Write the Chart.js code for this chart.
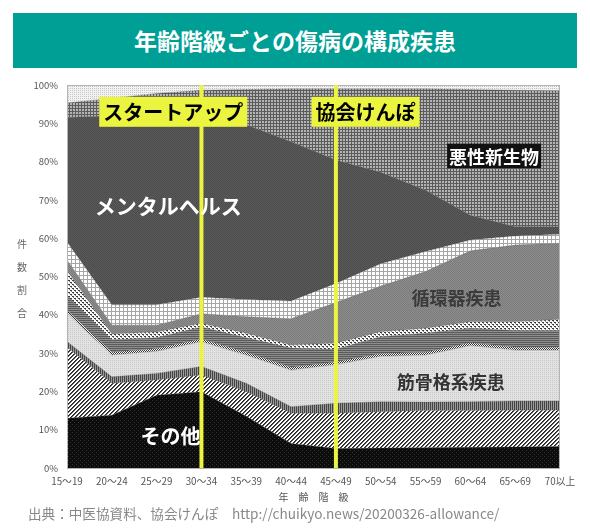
<!DOCTYPE html>
<html>
<head>
<meta charset="utf-8">
<script src="https://cdn.jsdelivr.net/npm/chart.js@4.4.1/dist/chart.umd.min.js"></script>
<style>
  html, body { margin: 0; padding: 0; background: #fff; }
  #wrap { position: relative; width: 590px; height: 529px; overflow: hidden;
          font-family: "Noto Sans CJK JP", "Noto Sans", sans-serif; }
  #banner { position: absolute; left: 13px; top: 13px; width: 564px; height: 55px;
            background: #009f95; color: #fff; font-weight: bold; font-size: 23px;
            line-height: 55px; text-align: center; }
  #ytitle { position: absolute; left: 15px; top: 232px; width: 14px; font-size: 10px;
            line-height: 23px; color: #666; text-align: center; }
  #source { position: absolute; left: 28px; top: 503px; font-size: 13.6px; line-height: 20px;
            color: #888; white-space: nowrap; }
  #chart { position: absolute; left: 0; top: 0; }
</style>
</head>
<body>
<div id="wrap">
  <canvas id="chart" width="590" height="529"></canvas>
  <div id="banner">年齢階級ごとの傷病の構成疾患</div>
  <div id="ytitle">件<br>数<br>割<br>合</div>
  <div id="source">出典：中医協資料、協会けんぽ　http://chuikyo.news/20200326-allowance/</div>
</div>
<script>
// age groups
const ages = ["15～19", "20～24", "25～29", "30～34", "35～39", "40～44",
              "45～49", "50～54", "55～59", "60～64", "65～69", "70以上"];

// share of cases (%) per layer, bottom to top
const other      = [13.0, 13.8, 19.0, 19.9, 13.5, 6.4, 5.1, 5.2, 5.3, 5.4, 5.5, 5.6];
const hatchGrp   = [18.5, 8.3, 4.0, 4.4, 6.4, 7.9, 9.2, 9.5, 9.7, 9.6, 9.6, 9.5];
const vstripeGrp = [1.5, 1.7, 1.7, 2.2, 2.2, 1.7, 2.6, 2.6, 2.2, 2.3, 2.4, 2.4];
const musculo    = [7.5, 5.7, 5.8, 6.5, 7.4, 9.6, 10.1, 11.9, 12.3, 14.7, 13.3, 13.3];
const thinGrp    = [0.7, 0.7, 0.7, 0.7, 0.7, 0.7, 0.7, 0.7, 0.7, 0.7, 0.7, 0.7];
const hstripeGrp = [3.8, 3.3, 2.8, 3.1, 3.8, 5.0, 3.3, 4.4, 5.0, 3.8, 4.4, 4.4];
const zigzagGrp  = [6.5, 1.5, 1.5, 1.0, 1.2, 0.8, 1.6, 1.3, 1.3, 1.7, 2.3, 2.9];
const circ       = [2.8, 2.3, 1.8, 2.5, 4.3, 6.9, 10.6, 11.9, 14.8, 18.5, 20.0, 19.9];
const checkGrp   = [4.7, 5.3, 5.3, 4.3, 4.5, 4.6, 5.0, 5.8, 5.2, 2.8, 2.4, 2.3];
const mental     = [32.5, 49.4, 48.4, 45.7, 45.6, 41.6, 32.2, 23.9, 16.0, 6.5, 2.4, 2.0];
const neoplasm   = [3.8, 4.5, 6.8, 8.3, 9.2, 13.8, 18.6, 21.8, 26.5, 32.8, 35.6, 35.5];
const topGrp     = [4.7, 3.5, 2.2, 1.4, 1.2, 1.0, 1.0, 1.0, 1.0, 1.2, 1.4, 1.5];

// y ticks
const yTicks = [0, 10, 20, 30, 40, 50, 60, 70, 80, 90, 100];

const YELLOW = "#ebf43f";

// small repeating fills for the grey-scale textures
function pattern(w, h, paint) {
    const c = document.createElement("canvas");
    c.width = w; c.height = h;
    const g = c.getContext("2d");
    paint(g);
    return g.createPattern(c, "repeat");
}
const px = (g, col, x, y, w = 1, h = 1) => { g.fillStyle = col; g.fillRect(x, y, w, h); };

const fills = {
    other: pattern(4, 4, g => { px(g, "#0c0c0c", 0, 0, 4, 4); px(g, "#333", 0, 0); px(g, "#333", 2, 2); }),
    hatch: pattern(4, 4, g => {
        px(g, "#fff", 0, 0, 4, 4);
        for (let i = 0; i < 4; i++) { px(g, "#222", i, 3 - i); px(g, "#555", (i + 1) % 4, 3 - i); }
    }),
    vstripe: pattern(2, 1, g => { px(g, "#444", 0, 0); px(g, "#9a9a9a", 1, 0); }),
    musculo: pattern(2, 2, g => { px(g, "#e2e2e2", 0, 0, 2, 2); px(g, "#c8c8c8", 0, 0); }),
    thin: pattern(2, 2, g => { px(g, "#fff", 0, 0, 2, 2); px(g, "#333", 0, 0); px(g, "#333", 1, 1); }),
    hstripe: pattern(1, 2, g => { px(g, "#5a5a5a", 0, 0); px(g, "#8e8e8e", 0, 1); }),
    zigzag: pattern(4, 4, g => { px(g, "#fafafa", 0, 0, 4, 4); px(g, "#3a3a3a", 0, 0, 2, 1); px(g, "#3a3a3a", 2, 2, 2, 1); px(g, "#888", 1, 1); px(g, "#888", 3, 3); }),
    circ: pattern(2, 2, g => { px(g, "#8e8e8e", 0, 0, 2, 2); px(g, "#7a7a7a", 0, 0); px(g, "#7a7a7a", 1, 1); }),
    check: pattern(4, 4, g => { px(g, "#fff", 0, 0, 4, 4); px(g, "#a6a6a6", 3, 0, 1, 4); px(g, "#a6a6a6", 0, 3, 4, 1); }),
    mental: pattern(2, 2, g => { px(g, "#5a5a5a", 0, 0, 2, 2); px(g, "#4c4c4c", 0, 0); px(g, "#4c4c4c", 1, 1); }),
    neoplasm: pattern(3, 3, g => { px(g, "#b4b4b4", 0, 0, 3, 3); px(g, "#5c5c5c", 0, 0, 3, 1); px(g, "#5c5c5c", 0, 0, 1, 3); }),
    top: pattern(2, 2, g => { px(g, "#f2f2f2", 0, 0, 2, 2); px(g, "#c6c6c6", 0, 0); })
};

const layers = [
    ["その他", other, fills.other],
    ["B", hatchGrp, fills.hatch],
    ["C", vstripeGrp, fills.vstripe],
    ["筋骨格系疾患", musculo, fills.musculo],
    ["D", thinGrp, fills.thin],
    ["E", hstripeGrp, fills.hstripe],
    ["F", zigzagGrp, fills.zigzag],
    ["循環器疾患", circ, fills.circ],
    ["G", checkGrp, fills.check],
    ["メンタルヘルス", mental, fills.mental],
    ["悪性新生物", neoplasm, fills.neoplasm],
    ["H", topGrp, fills.top]
];

// marker lines and text labels, placed in data coordinates
const markers = [
    { index: 3, text: "スタートアップ", cx: 2.37, cy: 93 },
    { index: 6, text: "協会けんぽ", cx: 6.66, cy: 93 }
];
const notes = [
    { text: "メンタルヘルス", cx: 2.26, cy: 68.6, size: 21, color: "#fff" },
    { text: "悪性新生物", cx: 9.53, cy: 81.5, size: 18, color: "#fff", box: "#111" },
    { text: "循環器疾患", cx: 8.69, cy: 44.6, size: 18, color: "#3a3a3a" },
    { text: "筋骨格系疾患", cx: 8.56, cy: 22.6, size: 18, color: "#333" },
    { text: "その他", cx: 2.31, cy: 8.6, size: 20, color: "#fff" }
];

const FONT = '"Noto Sans CJK JP", "Noto Sans", sans-serif';

const overlay = {
    id: "overlay",
    afterDatasetsDraw(chart) {
        const { ctx, chartArea: ca } = chart;
        const xs = chart.scales.x, ys = chart.scales.y;
        ctx.save();
        // frame
        ctx.strokeStyle = "#b4b4b4";
        ctx.lineWidth = 1;
        ctx.strokeRect(ca.left + 0.5, ca.top + 0.5, ca.right - ca.left - 1, ca.bottom - ca.top);
        ctx.textAlign = "center";
        ctx.textBaseline = "middle";
        // yellow lines and their tags
        markers.forEach(m => {
            const x = xs.getPixelForValue(m.index);
            ctx.fillStyle = YELLOW;
            ctx.fillRect(x - 2, ca.top, 4, ca.bottom - ca.top);
        });
        markers.forEach(m => {
            ctx.font = "bold 20px " + FONT;
            const w = ctx.measureText(m.text).width + 8;
            const x = xs.getPixelForValue(m.cx), y = ys.getPixelForValue(m.cy);
            ctx.fillStyle = YELLOW;
            ctx.fillRect(x - w / 2, y - 15, w, 30);
            ctx.fillStyle = "#000";
            ctx.fillText(m.text, x, y + 1);
        });
        notes.forEach(n => {
            ctx.font = "bold " + n.size + "px " + FONT;
            const x = xs.getPixelForValue(n.cx), y = ys.getPixelForValue(n.cy);
            if (n.box) {
                const w = ctx.measureText(n.text).width + 4;
                ctx.fillStyle = n.box;
                ctx.fillRect(x - w / 2, y - n.size * 0.68, w, n.size * 1.36);
            }
            ctx.fillStyle = n.color;
            ctx.fillText(n.text, x, y + 1);
        });
        ctx.restore();
    }
};

new Chart(document.getElementById("chart").getContext("2d"), {
    type: "line",
    data: {
        labels: ages,
        datasets: layers.map(([label, values, fill], i) => ({
            label: label,
            data: values,
            fill: i === 0 ? "origin" : "-1",
            backgroundColor: fill,
            borderColor: "rgba(70,70,70,0.45)",
            borderWidth: 0.6,
            pointRadius: 0,
            tension: 0
        }))
    },
    options: {
        responsive: false,
        animation: false,
        layout: { padding: { top: 85, right: 30, left: 0, bottom: 0 } },
        plugins: {
            legend: { display: false },
            tooltip: { enabled: false }
        },
        scales: {
            x: {
                offset: false,
                grid: { display: false, drawTicks: false },
                border: { display: false },
                ticks: {
                    color: "#555",
                    font: { size: 9.8, family: FONT },
                    padding: 7,
                    maxRotation: 0,
                    autoSkip: false
                },
                title: {
                    display: true,
                    text: "年　齢　階　級",
                    color: "#555",
                    font: { size: 10, family: FONT },
                    padding: { top: 0, bottom: 26 }
                },
                afterFit: (s) => { s.height = 61; }
            },
            y: {
                stacked: true,
                min: 0,
                max: 100,
                afterBuildTicks: (s) => { s.ticks = yTicks.map(v => ({ value: v })); },
                ticks: {
                    color: "#555",
                    font: { size: 9.5, family: FONT },
                    padding: 9,
                    callback: (v) => v + "%"
                },
                grid: { display: false, drawTicks: false },
                border: { display: true, color: "#999" },
                afterFit: (s) => { s.width = 67; }
            }
        }
    },
    plugins: [overlay]
});
</script>
</body>
</html>
